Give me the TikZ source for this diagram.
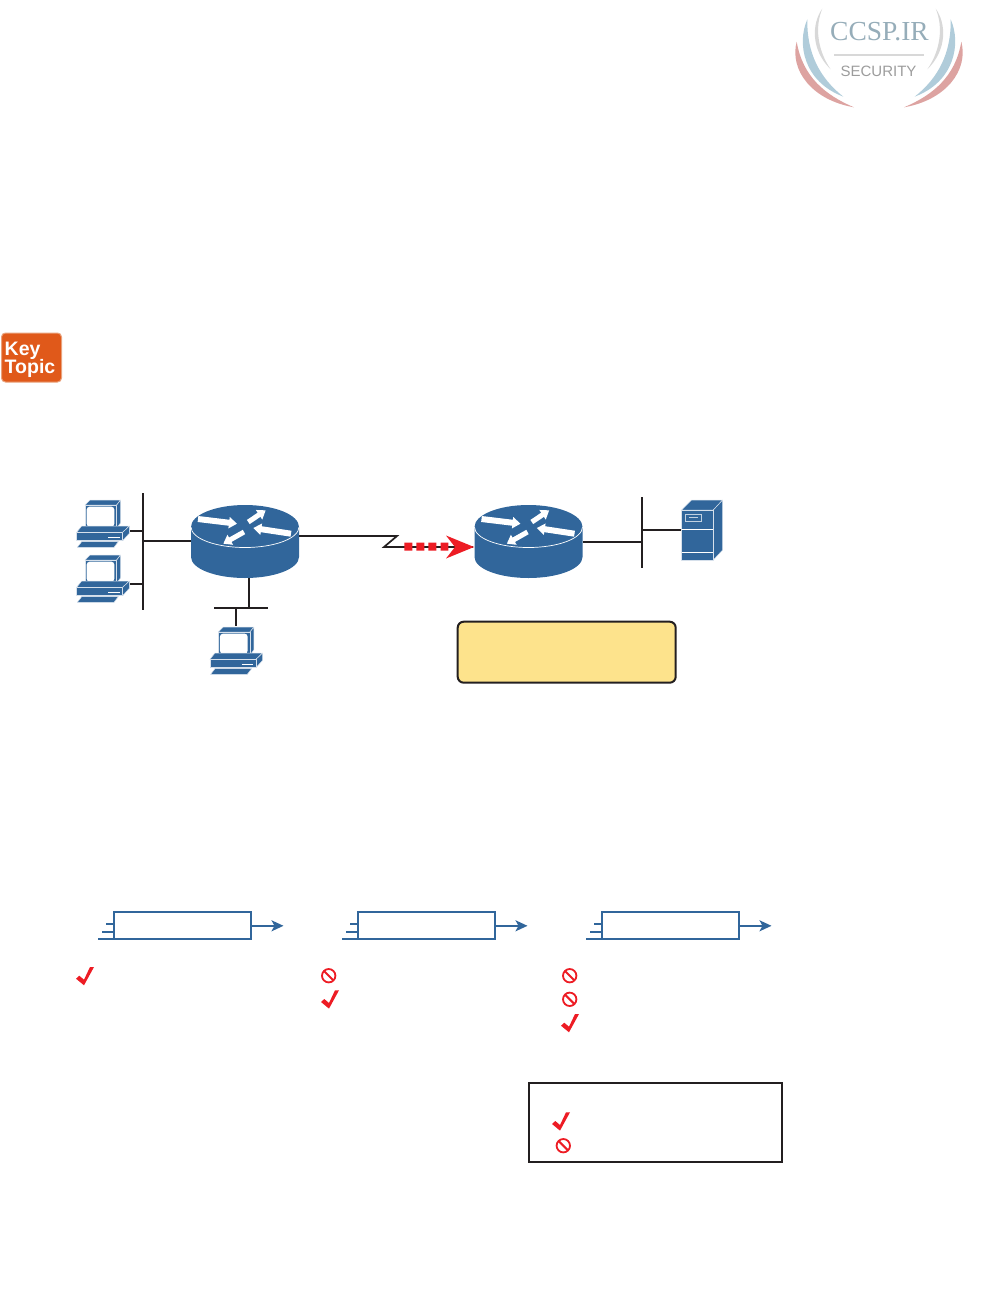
\documentclass[tikz,border=0pt]{standalone}
\usepackage{fontspec}
\setmainfont{Liberation Sans}
\newfontfamily\logoserif{Liberation Serif}
\usetikzlibrary{arrows.meta}
\definecolor{netblue}{HTML}{31669B}
\definecolor{alertred}{HTML}{ED1C24}
\definecolor{inkblack}{HTML}{231F20}
\definecolor{noteyellow}{HTML}{FDE38C}
\definecolor{keyorange}{HTML}{E0591A}
\definecolor{keyedge}{HTML}{E9A27C}
\definecolor{logoblue}{HTML}{B0CCDA}
\definecolor{logored}{HTML}{DDA3A1}
\definecolor{logogrey}{HTML}{D8D8D8}
\definecolor{logotext}{HTML}{9C9C9C}
\tikzset{
  wire/.style={draw=inkblack,line width=1.7pt},
  bluewire/.style={draw=netblue,line width=1.8pt},
  iconface/.style={fill=netblue,draw=white!80!netblue,line width=.5pt,line join=round},
  routerarrow/.style={draw=white,line width=#1,-{Triangle[width=11pt,length=8pt]}},
  flowbox/.style={draw=netblue,line width=2pt,fill=white,minimum width=137pt,minimum height=27pt,inner sep=0pt},
  notebox/.style={draw=inkblack,line width=2pt,fill=noteyellow,rounded corners=6pt,minimum width=218pt,minimum height=61pt,inner sep=0pt},
  legendbox/.style={draw=inkblack,line width=2pt,minimum width=253pt,minimum height=79pt,inner sep=0pt},
  router/.pic={
    \fill[netblue] (-54,0) -- (-54,30) arc[start angle=180,end angle=360,x radius=54pt,y radius=21pt]
      -- (54,0) arc[start angle=0,end angle=180,x radius=54pt,y radius=22pt] -- cycle;
    \draw[white,line width=.7pt] (-54,0) arc[start angle=180,end angle=360,x radius=54pt,y radius=20.5pt];
    \draw[routerarrow=6pt] (-47,-8) -- (-8,-3.3);
    \draw[routerarrow=5pt] (3.3,-5) -- (20.7,-16.7);
    \draw[routerarrow=6pt] (46,6.7) -- (8.3,1);
    \draw[routerarrow=5pt] (-1,5) -- (-21.7,16.7);
  },
  pcicon/.pic={
    \begin{scope}[x=.3333pt,y=-.3333pt]
    \draw[iconface] (75,75) -- (90,60) -- (182,60) -- (170,75) -- cycle;
    \draw[iconface] (170,75) -- (182,60) -- (182,128) -- (170,145) -- cycle;
    \draw[iconface] (75,75) rectangle (170,145);
    \fill[white,rounded corners=3pt] (80,80) rectangle (163,140);
    \draw[iconface] (50,157) -- (65,138) -- (208,138) -- (188,157) -- cycle;
    \draw[iconface] (188,157) -- (208,138) -- (208,160) -- (188,182) -- cycle;
    \draw[iconface] (50,157) rectangle (188,182);
    \draw[white,line width=.8pt] (145,172) -- (180,172);
    \draw[iconface] (52,202) -- (65,185) -- (175,185) -- (162,202) -- cycle;
    \end{scope}
  },
  servericon/.pic={
    \begin{scope}[x=.3333pt,y=-.3333pt]
    \draw[iconface] (935,90) -- (965,60) -- (1058,60) -- (1030,90) -- cycle;
    \draw[iconface] (1030,90) -- (1058,60) -- (1058,210) -- (1030,240) -- cycle;
    \draw[iconface] (935,90) rectangle (1030,240);
    \draw[white,line width=.7pt] (935,148) -- (1030,148) (935,217) -- (1030,217);
    \draw[white!70!netblue,line width=.7pt] (945,103) rectangle (995,123);
    \draw[white!70!netblue,line width=1pt] (957,113) -- (983,113);
    \end{scope}
  },
  checkmark/.pic={
    \fill[alertred] (-9,2.7) -- (-5.7,-.3) -- (-1,3.7) -- (5,-9) -- (9,-9) -- (-1,9.3) -- cycle;
  },
  nosign/.pic={
    \draw[alertred,line width=1.8pt] (0,0) circle[radius=6.7];
    \draw[alertred,line width=2pt] (-4.7,-4.7) -- (4.7,4.7);
  },
  logoarcs/.pic={
    \begin{scope}[x=.3333pt,y=-.3333pt]
    \fill[logogrey] (127,26) .. controls (95,70) and (92,150) .. (152,208) .. controls (112,150) and (104,80) .. (127,26) -- cycle;
    \fill[logoblue] (82,58) .. controls (50,130) and (70,245) .. (190,290) .. controls (120,235) and (80,160) .. (82,58) -- cycle;
    \fill[logored] (50,125) .. controls (28,210) and (95,300) .. (222,322) .. controls (135,285) and (68,230) .. (50,125) -- cycle;
    \end{scope}
  }
}
\begin{document}
\begin{tikzpicture}[x=1pt,y=-1pt]
\useasboundingbox (0,0) rectangle (991,1314);

% logo
\pic at (780,0) {logoarcs};
\pic[xscale=-1] at (978,0) {logoarcs};
\node[text=logoblue!85!black,font=\logoserif\fontsize{27.5}{28}\selectfont,inner sep=0pt] (logotitle) at (879.5,31.5) {CCSP.IR};
\coordinate (logoruleL) at (834,55);
\coordinate (logoruleR) at (924,55);
\draw[logogrey,line width=2.5pt] (logoruleL) -- (logoruleR);
\node[text=logotext,font=\fontsize{15}{15}\selectfont,inner sep=0pt] (logosub) at (878.5,71) {SECURITY};

% key topic badge
\node[draw=keyedge,fill=keyorange,line width=1pt,rounded corners=4pt,minimum width=60pt,minimum height=49pt,inner sep=0pt] (keybadge) at (31.5,357.5) {};
\node[anchor=base west,text=white,font=\bfseries\fontsize{19.5}{20}\selectfont,inner sep=0pt] (keyword) at (4.5,355.5) {Key};
\node[anchor=base west,text=white,font=\bfseries\fontsize{19.5}{20}\selectfont,inner sep=0pt] (topicword) at (4.5,373.5) {Topic};

% network coordinates
\coordinate (busLtop) at (143,493);
\coordinate (busLbot) at (143,610);
\coordinate (pcAport) at (130,531);
\coordinate (busLa) at (143,531);
\coordinate (pcBport) at (130,584);
\coordinate (busLb) at (143,584);
\coordinate (busLr) at (143,541);
\coordinate (routerAw) at (191,541);
\coordinate (routerAs) at (249,578);
\coordinate (busBm) at (249,608);
\coordinate (busBl) at (214,608);
\coordinate (busBr) at (268,608);
\coordinate (busBp) at (236,608);
\coordinate (pcCport) at (236,626);
\coordinate (routerAe) at (299,536);
\coordinate (zigA) at (397,536);
\coordinate (zigB) at (384,547);
\coordinate (routerBw) at (473,547);
\coordinate (routerBe) at (583,542);
\coordinate (busRm) at (642,542);
\coordinate (busRtop) at (642,497);
\coordinate (busRbot) at (642,568);
\coordinate (busRs) at (642,530);
\coordinate (serverport) at (681,530);

\draw[wire] (busLtop) -- (busLbot);
\draw[wire] (pcAport) -- (busLa);
\draw[wire] (pcBport) -- (busLb);
\draw[wire] (busLr) -- (routerAw);
\draw[wire] (routerAs) -- (busBm);
\draw[wire] (busBl) -- (busBr);
\draw[wire] (busBp) -- (pcCport);
\draw[wire] (routerAe) -- (zigA) -- (zigB) -- (routerBw);
\draw[wire] (routerBe) -- (busRm);
\draw[wire] (busRtop) -- (busRbot);
\draw[wire] (busRs) -- (serverport);

% icons
\pic at (245,527) {router};
\pic at (528.5,527) {router};
\pic at (60,480) {pcicon};
\pic at (60,535) {pcicon};
\pic at (193.3,607) {pcicon};
\pic at (370,480) {servericon};

% red flow
\fill[alertred] (404.3,542.7) rectangle (412.3,550.7)
  (416.3,542.7) rectangle (424.3,550.7)
  (428.3,542.7) rectangle (436.3,550.7)
  (440.5,542.7) rectangle (448.3,550.7);
\fill[alertred] (474,547) -- (446,535.5) -- (455,547) -- (446,558.5) -- cycle;

% note
\node[notebox] (note) at (566.7,652.2) {};

% flow boxes
\node[flowbox] (flowA) at (182.8,925.8) {};
\node[flowbox] (flowB) at (426.8,925.8) {};
\node[flowbox] (flowC) at (670.8,925.8) {};
\foreach \b/\dx/\n in {flowA/0/a,flowB/244/b,flowC/488/c}{
  \coordinate (\n out) at (283.5+\dx,925.8);
  \draw[bluewire,-{Stealth[length=12pt,width=11pt,inset=3pt]}] (\b.east) -- (\n out);
  \coordinate (\n i1) at (106+\dx,924);
  \coordinate (\n i2) at (102+\dx,932);
  \coordinate (\n i3) at (98+\dx,939);
  \coordinate (\n j1) at (114+\dx,924);
  \coordinate (\n j2) at (114+\dx,932);
  \coordinate (\n j3) at (114+\dx,939);
  \draw[bluewire] (\n i1) -- (\n j1);
  \draw[bluewire] (\n i2) -- (\n j2);
  \draw[bluewire] (\n i3) -- (\n j3);
}

% marks
\pic at (85,976) {checkmark};
\pic at (328.7,975.7) {nosign};
\pic at (330,999.3) {checkmark};
\pic at (569.7,975.7) {nosign};
\pic at (569.7,999.3) {nosign};
\pic at (570,1023) {checkmark};

% legend
\node[legendbox] (legend) at (655,1122.5) {};
\pic at (561,1121.3) {checkmark};
\pic at (563.3,1145.7) {nosign};
\end{tikzpicture}
\end{document}
